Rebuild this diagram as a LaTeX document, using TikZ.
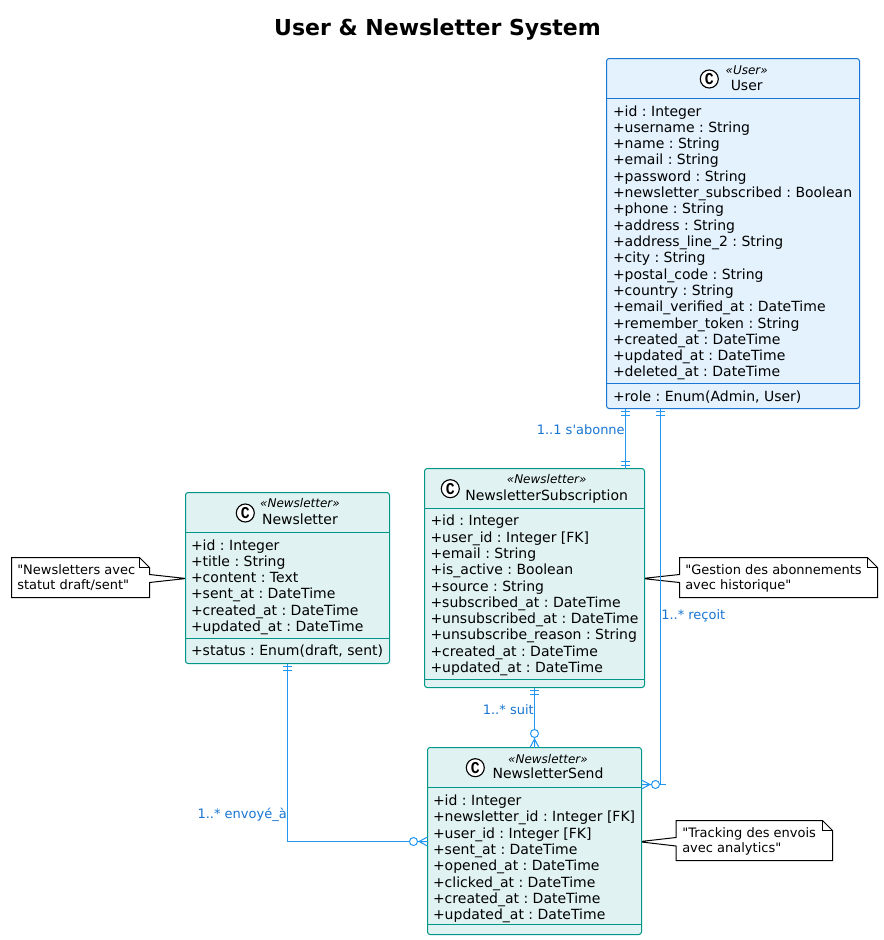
\documentclass[tikz,border=0pt]{standalone}
\usepackage{graphicx}
\usepackage{fontspec}
\setmainfont{DejaVu Sans}
\newfontfamily\plainfont{DejaVu Sans}
\newfontfamily\spotfont{Liberation Mono}
\newcommand{\spotC}{\scalebox{0.82}[0.92]{C}}
\usetikzlibrary{calc}
\definecolor{ublue}{HTML}{1976D2}
\definecolor{ufill}{HTML}{E3F2FD}
\definecolor{nteal}{HTML}{009688}
\definecolor{nfill}{HTML}{E0F2F1}
\definecolor{conn}{HTML}{2196F3}
\definecolor{lab}{HTML}{1976D2}
\def\px{0.75pt}
\tikzset{
 x=0.75pt,y=-0.75pt,
 classbox/.style={rectangle,draw,line width=0.75pt,rounded corners=2pt,inner sep=0pt,outer sep=0pt},
 userbox/.style={classbox,draw=ublue,fill=ufill},
 newsbox/.style={classbox,draw=nteal,fill=nfill},
 members/.style={anchor=north west,inner sep=0pt,outer sep=0pt,align=left,font=\frenchspacing\fontsize{10.5pt}{12.23pt}\selectfont,text=black},
 classname/.style={anchor=base,inner sep=0pt,font=\fontsize{10.5pt}{12pt}\selectfont},
 stereo/.style={anchor=base,inner sep=0pt,font=\fontsize{9pt}{11pt}\selectfont\itshape},
 spot/.style={circle,draw=black,fill=white,line width=0.85pt,minimum size=13.5pt,inner sep=0pt,font=\spotfont\fontsize{13.5pt}{13.5pt}\selectfont\bfseries},
 linkl/.style={anchor=base east,inner sep=0pt,text=lab,font=\plainfont\fontsize{9.75pt}{12pt}\selectfont},
 linkr/.style={anchor=base west,inner sep=0pt,text=lab,font=\plainfont\fontsize{9.75pt}{12pt}\selectfont},
 notetxt/.style={anchor=north west,inner sep=0pt,align=left,font=\plainfont\fontsize{9.75pt}{11.2pt}\selectfont},
 link/.style={draw=conn,line width=0.75pt},
 crowfoot/.pic={
   \draw[link] (-8.5,0) -- (0,-4.5) (-8.5,0) -- (0,4.5) (-10,0) -- (0,0);
   \draw[link,fill=white] (-14,0) circle[radius=4];
 },
 twotick/.pic={
   \draw[link] (3,-4.5) -- (3,4.5) (7,-4.5) -- (7,4.5);
 },
}
\begin{document}
\begin{tikzpicture}
\useasboundingbox (0,0) rectangle (883,940);
\fill[white] (0,0) rectangle (883,940);

\node[anchor=base,inner sep=0pt,font=\fontsize{16.5pt}{20pt}\selectfont\bfseries] (title) at (437.5,35.7) {User \& Newsletter System};

% notes (below the links)
\draw[fill=white,line width=0.75pt] (11.5,557.5) -- (139.5,557.5) -- (149.5,567.5) -- (149.5,574.5) -- (186,578.5) -- (149.5,582.5) -- (149.5,597.5) -- (11.5,597.5) -- cycle;
\draw[line width=0.75pt] (139.5,557.5) -- (139.5,567.5) -- (149.5,567.5);
\node[notetxt] (note1) at (17,564) {"Newsletters avec\\statut draft/sent"};

\draw[fill=white,line width=0.75pt] (679.5,557.5) -- (867.5,557.5) -- (877.5,567.5) -- (877.5,597.5) -- (679.5,597.5) -- (679.5,582.5) -- (642.3,578.5) -- (679.5,574.5) -- cycle;
\draw[line width=0.75pt] (867.5,557.5) -- (867.5,567.5) -- (877.5,567.5);
\node[notetxt] (note2) at (685,564) {"Gestion des abonnements\\avec historique"};

\draw[fill=white,line width=0.75pt] (676,820.5) -- (822.5,820.5) -- (832.5,830.5) -- (832.5,860.5) -- (676,860.5) -- (676,846) -- (639,841.7) -- (676,837.5) -- cycle;
\draw[line width=0.75pt] (822.5,820.5) -- (822.5,830.5) -- (832.5,830.5);
\node[notetxt] (note3) at (682,827.5) {"Tracking des envois\\avec analytics"};

% classes
\node[userbox,minimum width=253*\px,minimum height=350*\px] (user) at (733,233.5) {};
\draw[ublue,line width=0.75pt] (606.5,98.5) -- (859.5,98.5) (606.5,383.5) -- (859.5,383.5);
\node[spot] (userspot) at (709.3,79) {\spotC};
\node[stereo] (userst) at (746.7,74.3) {«User»};
\node[classname] (username) at (746.7,90.7) {User};
\node[members] (usermem) at (613,105.4) {+id : Integer\\+username : String\\+name : String\\+email : String\\+password : String\\+newsletter\_subscribed : Boolean\\+phone : String\\+address : String\\+address\_line\_2 : String\\+city : String\\+postal\_code : String\\+country : String\\+email\_verified\_at : DateTime\\+remember\_token : String\\+created\_at : DateTime\\+updated\_at : DateTime\\+deleted\_at : DateTime};
\node[members] (userop) at (613,390.4) {+role : Enum(Admin, User)};

\node[newsbox,minimum width=220*\px,minimum height=219*\px] (sub) at (534.5,578) {};
\draw[nteal,line width=0.75pt] (424.5,508.5) -- (644.5,508.5) (424.5,679.5) -- (644.5,679.5);
\node[spot] (subspot) at (450.3,488.7) {\spotC};
\node[stereo] (subst) at (546.7,483.3) {«Newsletter»};
\node[classname] (subname) at (546.7,500) {NewsletterSubscription};
\node[members] (submem) at (430.5,515.2) {+id : Integer\\+user\_id : Integer [FK]\\+email : String\\+is\_active : Boolean\\+source : String\\+subscribed\_at : DateTime\\+unsubscribed\_at : DateTime\\+unsubscribe\_reason : String\\+created\_at : DateTime\\+updated\_at : DateTime};

\node[newsbox,minimum width=204*\px,minimum height=171*\px] (nl) at (287.5,578) {};
\draw[nteal,line width=0.75pt] (185.5,532.5) -- (389.5,532.5) (185.5,638.5) -- (389.5,638.5);
\node[spot] (nlspot) at (245.3,513) {\spotC};
\node[stereo] (nlst) at (300,507) {«Newsletter»};
\node[classname] (nlname) at (300,524) {Newsletter};
\node[members] (nlmem) at (191,539.4) {+id : Integer\\+title : String\\+content : Text\\+sent\_at : DateTime\\+created\_at : DateTime\\+updated\_at : DateTime};
\node[members] (nlop) at (191,644.4) {+status : Enum(draft, sent)};

\node[newsbox,minimum width=214*\px,minimum height=187*\px] (send) at (534.5,841) {};
\draw[nteal,line width=0.75pt] (427.5,787.5) -- (641.5,787.5) (427.5,924.5) -- (641.5,924.5);
\node[spot] (sendspot) at (475.3,767.7) {\spotC};
\node[stereo] (sendst) at (548,763) {«Newsletter»};
\node[classname] (sendname) at (548,778) {NewsletterSend};
\node[members] (sendmem) at (433,795) {+id : Integer\\+newsletter\_id : Integer [FK]\\+user\_id : Integer [FK]\\+sent\_at : DateTime\\+opened\_at : DateTime\\+clicked\_at : DateTime\\+created\_at : DateTime\\+updated\_at : DateTime};

% links
\coordinate (bendr) at (660.5,784.5);
\coordinate (bendl) at (287.5,841.5);
\draw[link] ([xshift=-107.5*\px]user.south) -- ([xshift=91*\px]sub.north);
\pic[rotate=-90] at ([xshift=-107.5*\px]user.south) {twotick};
\pic[rotate=90] at ([xshift=91*\px]sub.north) {twotick};

\draw[link] ([xshift=-72.5*\px]user.south) -- (bendr) -- ([yshift=56.5*\px]send.east);
\draw[link] (bendr) -- ++(5,0);
\pic[rotate=-90] at ([xshift=-72.5*\px]user.south) {twotick};
\pic[rotate=180] at ([yshift=56.5*\px]send.east) {crowfoot};

\draw[link] (sub.south) -- (send.north);
\pic[rotate=-90] at (sub.south) {twotick};
\pic[rotate=-90] at (send.north) {crowfoot};

\draw[link] (nl.south) -- (bendl) -- (send.west |- bendl);
\pic[rotate=-90] at (nl.south) {twotick};
\pic at (send.west |- bendl) {crowfoot};

\node[linkl] (l1) at (625,434) {1..1 s'abonne};
\node[linkr] (l2) at (661,619) {1..* reçoit};
\node[linkl] (l3) at (534,714) {1..* suit};
\node[linkl] (l4) at (287,818) {1..* envoyé\_à};
\end{tikzpicture}
\end{document}
